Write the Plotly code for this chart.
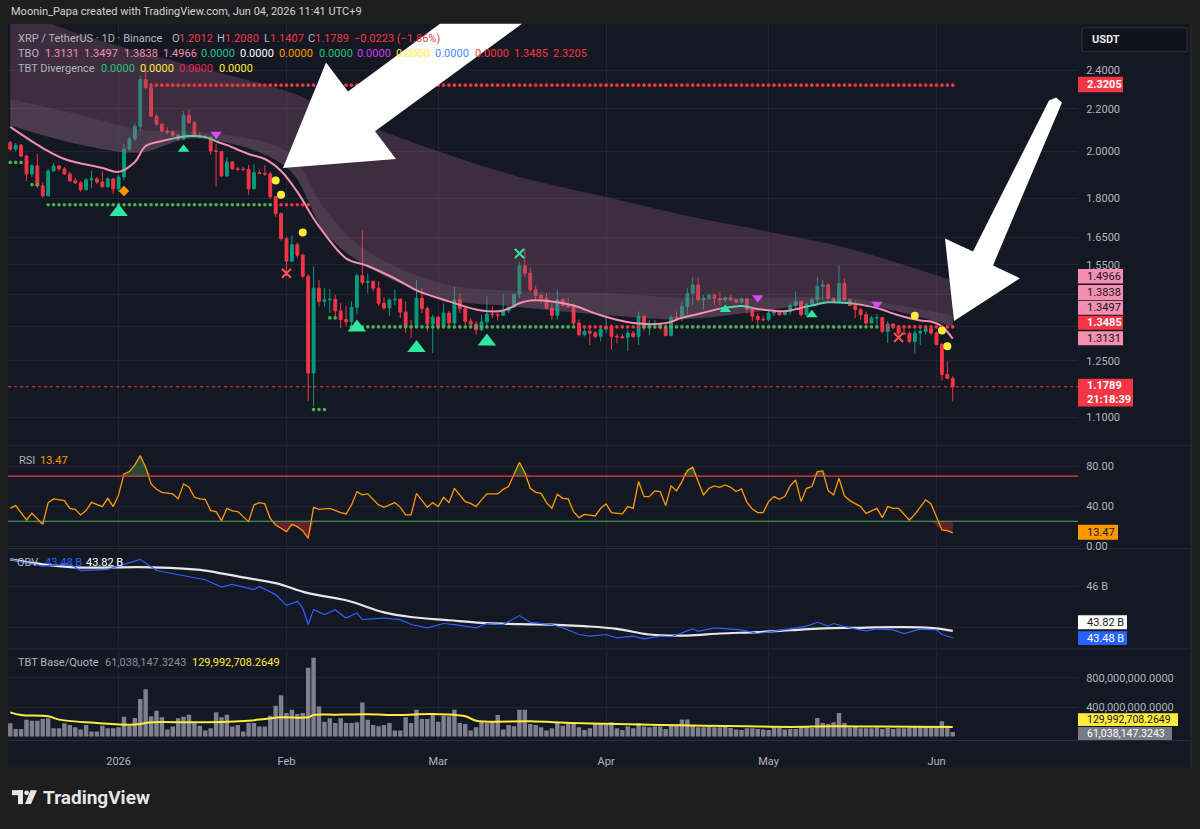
import plotly.graph_objects as go
import pandas as pd

W, H = 1200, 829
FONT = "Roboto"


def X(px):
    return px / W


def Y(py):
    return 1 - py / H


# ---------------------------------------------------------------- data
candle_start = "2025-12-12"
first_open = 2.040
closes = [2.010, 2.028, 1.979, 1.901, 1.936, 1.851, 1.810, 1.914, 1.935, 1.923,
          1.901, 1.872, 1.863, 1.835, 1.876, 1.880, 1.867, 1.847, 1.880, 1.839,
          1.888, 2.010, 2.056, 2.116, 2.350, 2.308, 2.164, 2.126, 2.094, 2.089,
          2.074, 2.056, 2.169, 2.134, 2.071, 2.067, 2.063, 2.002, 2.000, 1.893,
          1.953, 1.923, 1.921, 1.920, 1.839, 1.906, 1.903, 1.901, 1.806, 1.739,
          1.644, 1.563, 1.622, 1.584, 1.511, 1.216, 1.471, 1.428, 1.433, 1.435,
          1.398, 1.371, 1.364, 1.409, 1.513, 1.490, 1.494, 1.471, 1.422, 1.407,
          1.433, 1.435, 1.394, 1.350, 1.349, 1.438, 1.405, 1.357, 1.378, 1.350,
          1.391, 1.360, 1.433, 1.405, 1.366, 1.357, 1.340, 1.364, 1.388, 1.386,
          1.384, 1.398, 1.409, 1.451, 1.547, 1.521, 1.466, 1.447, 1.438, 1.407,
          1.384, 1.433, 1.415, 1.412, 1.360, 1.325, 1.335, 1.330, 1.320, 1.342,
          1.350, 1.320, 1.319, 1.317, 1.330, 1.320, 1.381, 1.345, 1.355, 1.357,
          1.345, 1.323, 1.378, 1.376, 1.412, 1.454, 1.482, 1.433, 1.438, 1.449,
          1.438, 1.433, 1.440, 1.433, 1.426, 1.436, 1.402, 1.381, 1.371, 1.370,
          1.391, 1.394, 1.386, 1.396, 1.415, 1.428, 1.386, 1.419, 1.433, 1.477,
          1.482, 1.438, 1.428, 1.487, 1.433, 1.415, 1.402, 1.386, 1.360, 1.376,
          1.377, 1.335, 1.357, 1.350, 1.330, 1.328, 1.305, 1.330, 1.335, 1.343,
          1.330, 1.296, 1.212, 1.2012, 1.1789]
highs = [2.047, 2.038, 2.033, 1.984, 1.944, 1.988, 1.867, 1.923, 1.948, 1.940,
         1.931, 1.910, 1.884, 1.872, 1.884, 1.914, 1.888, 1.914, 1.888, 1.884,
         1.897, 2.033, 2.065, 2.130, 2.371, 2.415, 2.319, 2.174, 2.130, 2.111,
         2.097, 2.078, 2.188, 2.198, 2.140, 2.088, 2.078, 2.070, 2.033, 1.997,
         1.975, 1.957, 1.931, 1.931, 1.940, 1.944, 1.918, 1.940, 1.910, 1.810,
         1.743, 1.652, 1.655, 1.630, 1.590, 1.518, 1.545, 1.498, 1.471, 1.468,
         1.449, 1.422, 1.413, 1.428, 1.521, 1.675, 1.521, 1.494, 1.494, 1.441,
         1.438, 1.466, 1.438, 1.428, 1.370, 1.498, 1.471, 1.412, 1.386, 1.382,
         1.422, 1.398, 1.476, 1.454, 1.412, 1.376, 1.366, 1.386, 1.444, 1.412,
         1.396, 1.451, 1.412, 1.454, 1.561, 1.608, 1.540, 1.482, 1.454, 1.454,
         1.422, 1.468, 1.438, 1.438, 1.422, 1.371, 1.345, 1.345, 1.336, 1.350,
         1.376, 1.357, 1.327, 1.327, 1.340, 1.336, 1.396, 1.386, 1.370, 1.370,
         1.360, 1.357, 1.384, 1.396, 1.428, 1.471, 1.509, 1.509, 1.449, 1.454,
         1.454, 1.460, 1.444, 1.449, 1.438, 1.441, 1.438, 1.407, 1.391, 1.382,
         1.398, 1.398, 1.398, 1.401, 1.422, 1.460, 1.430, 1.422, 1.438, 1.509,
         1.498, 1.487, 1.438, 1.550, 1.504, 1.438, 1.428, 1.407, 1.396, 1.382,
         1.388, 1.378, 1.366, 1.360, 1.354, 1.351, 1.335, 1.340, 1.345, 1.350,
         1.345, 1.335, 1.300, 1.248, 1.2080]
lows = [2.001, 2.001, 1.975, 1.872, 1.888, 1.843, 1.802, 1.806, 1.910, 1.914,
        1.897, 1.867, 1.859, 1.827, 1.831, 1.843, 1.859, 1.843, 1.843, 1.818,
        1.827, 1.876, 2.001, 2.047, 2.093, 2.298, 2.160, 2.116, 2.088, 2.078,
        2.065, 2.047, 2.051, 2.126, 2.065, 2.060, 2.056, 1.984, 1.847, 1.888,
        1.888, 1.918, 1.914, 1.914, 1.814, 1.835, 1.901, 1.893, 1.798, 1.727,
        1.637, 1.511, 1.587, 1.573, 1.504, 1.141, 1.128, 1.412, 1.412, 1.391,
        1.376, 1.345, 1.350, 1.350, 1.386, 1.481, 1.454, 1.460, 1.413, 1.401,
        1.382, 1.417, 1.376, 1.330, 1.315, 1.345, 1.391, 1.335, 1.272, 1.339,
        1.345, 1.354, 1.355, 1.391, 1.355, 1.350, 1.325, 1.335, 1.355, 1.376,
        1.368, 1.386, 1.391, 1.407, 1.438, 1.509, 1.460, 1.433, 1.422, 1.402,
        1.371, 1.371, 1.412, 1.407, 1.350, 1.320, 1.320, 1.295, 1.315, 1.305,
        1.330, 1.281, 1.300, 1.312, 1.278, 1.315, 1.295, 1.336, 1.323, 1.342,
        1.339, 1.320, 1.320, 1.370, 1.366, 1.386, 1.417, 1.428, 1.401, 1.432,
        1.417, 1.417, 1.426, 1.428, 1.422, 1.422, 1.391, 1.366, 1.350, 1.367,
        1.366, 1.382, 1.382, 1.385, 1.386, 1.405, 1.381, 1.381, 1.417, 1.416,
        1.433, 1.432, 1.422, 1.428, 1.430, 1.412, 1.376, 1.371, 1.355, 1.364,
        1.355, 1.330, 1.300, 1.345, 1.324, 1.325, 1.300, 1.269, 1.295, 1.325,
        1.324, 1.295, 1.195, 1.200, 1.1407]
volume_m = [181, 104, 104, 230, 217, 217, 240, 249, 113, 113,
            181, 158, 127, 95, 158, 68, 68, 149, 113, 113,
            127, 271, 149, 253, 511, 646, 276, 353, 262, 95,
            136, 249, 271, 298, 185, 149, 81, 113, 330, 262,
            298, 136, 158, 68, 185, 185, 136, 136, 285, 420,
            565, 321, 366, 307, 321, 940, 1076, 411, 203, 249,
            185, 249, 185, 185, 194, 466, 230, 158, 140, 158,
            185, 81, 81, 262, 185, 366, 240, 240, 294, 203,
            285, 276, 366, 185, 172, 81, 127, 203, 185, 203,
            294, 95, 158, 140, 366, 366, 172, 158, 127, 81,
            113, 185, 149, 172, 172, 127, 90, 113, 172, 185,
            176, 194, 113, 90, 140, 113, 185, 136, 127, 136,
            136, 104, 158, 149, 231, 231, 158, 127, 127, 136,
            127, 127, 136, 118, 95, 90, 113, 113, 104, 95,
            90, 127, 118, 95, 104, 104, 136, 127, 118, 253,
            185, 172, 194, 321, 185, 122, 136, 113, 113, 113,
            122, 104, 118, 104, 113, 113, 122, 136, 140, 136,
            136, 127, 208, 149, 61.038]

# volume moving average (yellow)
vma_dates = ["2025-12-12", "2025-12-14", "2025-12-19", "2025-12-21", "2025-12-28",
             "2026-01-04", "2026-01-07", "2026-01-16", "2026-01-25", "2026-01-28",
             "2026-01-31", "2026-02-05", "2026-02-06", "2026-02-10", "2026-02-16",
             "2026-02-22", "2026-02-28", "2026-03-06", "2026-03-08", "2026-03-18",
             "2026-03-26", "2026-04-03", "2026-04-11", "2026-04-19", "2026-04-27",
             "2026-05-05", "2026-05-13", "2026-05-21", "2026-06-04"]
vma_m = [330, 294, 276, 231, 185, 163, 194, 194, 217, 240, 262, 262, 294, 298, 303,
         294, 307, 276, 217, 208, 185, 172, 158, 149, 140, 131, 140, 136, 129.993]

# TBO lines (fast pink line + three slower band lines)
tbo_fast_dates = ["2025-12-12", "2025-12-18", "2025-12-22", "2025-12-29", "2026-01-01",
                  "2026-01-04", "2026-01-06", "2026-01-09", "2026-01-11", "2026-01-14",
                  "2026-01-17", "2026-01-19", "2026-01-21", "2026-01-25", "2026-01-28",
                  "2026-01-31", "2026-02-03", "2026-02-06", "2026-02-07", "2026-02-12",
                  "2026-02-16", "2026-02-22", "2026-02-25", "2026-03-03", "2026-03-09",
                  "2026-03-13", "2026-03-16", "2026-03-18", "2026-03-22", "2026-03-26",
                  "2026-03-31", "2026-04-06", "2026-04-12", "2026-04-15", "2026-04-18",
                  "2026-04-22", "2026-04-24", "2026-04-26", "2026-04-28", "2026-04-29",
                  "2026-05-04", "2026-05-08", "2026-05-09", "2026-05-12", "2026-05-16",
                  "2026-05-17", "2026-05-21", "2026-05-25", "2026-05-29", "2026-05-31",
                  "2026-06-02", "2026-06-04"]
tbo_fast = [2.113, 2.015, 1.966, 1.927, 1.910, 1.953, 2.024, 2.047, 2.058, 2.070,
            2.065, 2.045, 2.028, 1.988, 1.966, 1.914, 1.826, 1.720, 1.690, 1.573,
            1.546, 1.494, 1.464, 1.428, 1.399, 1.399, 1.422, 1.431, 1.428, 1.415,
            1.384, 1.360, 1.360, 1.376, 1.388, 1.405, 1.410, 1.413, 1.407, 1.404,
            1.397, 1.412, 1.415, 1.425, 1.422, 1.420, 1.407, 1.384, 1.368, 1.365,
            1.350, 1.3131]
# trend state of the segment that starts at each point: "up" teal, "dn" pink
tbo_fast_state = ["dn"] * 8 + ["up"] * 3 + ["dn"] * 24 + ["up"] * 3 + ["dn"] * 3 + \
                 ["up"] * 4 + ["dn"] * 7

tbo_band_dates = ["2025-12-12", "2025-12-25", "2026-01-05", "2026-01-15", "2026-02-01",
                  "2026-02-08", "2026-02-15", "2026-03-01", "2026-03-15", "2026-04-01",
                  "2026-04-15", "2026-05-01", "2026-05-15", "2026-06-04"]
tbo_mid = [2.120, 2.030, 1.995, 2.060, 1.930, 1.670, 1.555, 1.440, 1.412, 1.385,
           1.372, 1.400, 1.425, 1.3497]
tbo_slow = [2.250, 2.170, 2.100, 2.090, 2.000, 1.760, 1.610, 1.490, 1.462, 1.455,
            1.440, 1.440, 1.440, 1.3838]
tbo_slowest = [2.760, 2.600, 2.500, 2.420, 2.290, 2.210, 2.130, 2.000, 1.895, 1.805,
               1.735, 1.670, 1.612, 1.4966]

# dotted support / resistance levels
lvl_start = ["2025-12-12", "2025-12-16", "2025-12-19", "2026-01-30", "2026-02-06",
             "2026-02-09", "2026-02-13", "2026-03-27", "2026-04-08", "2026-05-22",
             "2026-01-07"]
lvl_end = ["2025-12-14", "2025-12-17", "2026-01-29", "2026-02-05", "2026-02-08",
           "2026-02-10", "2026-03-26", "2026-04-07", "2026-05-21", "2026-06-04",
           "2026-06-04"]
lvl_price = [1.951, 1.856, 1.774, 1.774, 1.120, 1.376, 1.3485, 1.3485, 1.3485, 1.3485,
             2.3205]
lvl_kind = ["sup", "sup", "sup", "res", "sup", "sup", "sup", "res", "sup", "res", "res"]

# signal markers
big_up_dates = ["2026-01-01", "2026-02-14", "2026-02-25", "2026-03-10"]
big_up_price = [1.745, 1.347, 1.286, 1.305]
small_up_dates = ["2026-01-13", "2026-04-23", "2026-05-09"]
small_up_price = [2.010, 1.402, 1.386]
down_dates = ["2026-01-19", "2026-04-29", "2026-05-21"]
down_price = [2.078, 1.440, 1.419]
pin_dates = ["2026-01-30", "2026-01-31", "2026-02-04", "2026-05-28", "2026-06-02", "2026-06-03"]
pin_price = [1.873, 1.814, 1.667, 1.383, 1.338, 1.291]
redx_dates = ["2026-02-01", "2026-05-25"]
redx_price = [1.521, 1.317]
greenx_dates = ["2026-03-16"]
greenx_price = [1.590]
diamond_dates = ["2026-01-02"]
diamond_price = [1.830]

# RSI
rsi_dates = ["2025-12-12", "2025-12-13", "2025-12-15", "2025-12-16", "2025-12-18", "2025-12-19",
             "2025-12-20", "2025-12-22", "2025-12-23", "2025-12-24", "2025-12-25", "2025-12-26",
             "2025-12-27", "2025-12-29", "2025-12-30", "2025-12-31", "2026-01-01", "2026-01-02",
             "2026-01-03", "2026-01-04", "2026-01-05", "2026-01-06", "2026-01-07", "2026-01-08",
             "2026-01-09", "2026-01-11", "2026-01-12", "2026-01-13", "2026-01-14", "2026-01-15",
             "2026-01-16", "2026-01-17", "2026-01-18", "2026-01-19", "2026-01-20", "2026-01-21",
             "2026-01-22", "2026-01-23", "2026-01-25", "2026-01-26", "2026-01-27", "2026-01-28",
             "2026-01-29", "2026-01-30", "2026-02-01", "2026-02-02", "2026-02-03", "2026-02-04",
             "2026-02-05", "2026-02-06", "2026-02-07", "2026-02-09", "2026-02-11", "2026-02-12",
             "2026-02-13", "2026-02-14", "2026-02-15", "2026-02-16", "2026-02-18", "2026-02-19",
             "2026-02-21", "2026-02-22", "2026-02-23", "2026-02-24", "2026-02-25", "2026-02-26",
             "2026-02-27", "2026-02-28", "2026-03-01", "2026-03-02", "2026-03-03", "2026-03-04",
             "2026-03-05", "2026-03-06", "2026-03-07", "2026-03-08", "2026-03-09", "2026-03-10",
             "2026-03-12", "2026-03-13", "2026-03-14", "2026-03-15", "2026-03-16", "2026-03-17",
             "2026-03-18", "2026-03-19", "2026-03-20", "2026-03-21", "2026-03-22", "2026-03-23",
             "2026-03-24", "2026-03-25", "2026-03-26", "2026-03-27", "2026-03-28", "2026-03-30",
             "2026-03-31", "2026-04-01", "2026-04-02", "2026-04-04", "2026-04-05", "2026-04-06",
             "2026-04-07", "2026-04-08", "2026-04-09", "2026-04-10", "2026-04-11", "2026-04-12",
             "2026-04-13", "2026-04-14", "2026-04-15", "2026-04-16", "2026-04-17", "2026-04-18",
             "2026-04-19", "2026-04-20", "2026-04-21", "2026-04-22", "2026-04-23", "2026-04-24",
             "2026-04-25", "2026-04-26", "2026-04-27", "2026-04-28", "2026-04-29", "2026-04-30",
             "2026-05-01", "2026-05-02", "2026-05-03", "2026-05-04", "2026-05-05", "2026-05-06",
             "2026-05-07", "2026-05-08", "2026-05-09", "2026-05-10", "2026-05-11", "2026-05-12",
             "2026-05-13", "2026-05-14", "2026-05-15", "2026-05-16", "2026-05-17", "2026-05-18",
             "2026-05-19", "2026-05-20", "2026-05-21", "2026-05-22", "2026-05-23", "2026-05-24",
             "2026-05-25", "2026-05-27", "2026-05-28", "2026-05-30", "2026-05-31", "2026-06-02",
             "2026-06-03", "2026-06-04"]
rsi_values = [37.9, 40.6, 26.3, 32.9, 21.9, 43.6,
              47.3, 45.6, 37.9, 36.9, 31.3, 35.6,
              43.9, 39.6, 47.9, 39.6, 51.3, 72.3,
              74.6, 81.3, 90.6, 78.9, 62.3, 56.9,
              53.9, 52.3, 47.3, 62.3, 58.9, 48.9,
              47.3, 46.9, 35.6, 34.6, 25.6, 37.9,
              35.3, 34.6, 24.6, 41.3, 43.6, 42.3,
              27.9, 21.3, 14.6, 21.9, 19.6, 15.6,
              7.9, 38.9, 36.9, 37.9, 33.6, 32.3,
              41.3, 54.6, 51.3, 52.3, 41.3, 38.9,
              43.6, 38.9, 31.3, 31.3, 52.9, 46.3,
              38.9, 43.6, 39.6, 48.9, 43.6, 57.9,
              51.3, 44.6, 42.9, 39.6, 46.3, 52.3,
              52.3, 56.9, 59.6, 71.3, 83.9, 73.6,
              57.9, 53.9, 52.9, 43.6, 37.9, 51.9,
              47.9, 47.3, 34.6, 28.6, 31.9, 30.3,
              37.9, 42.3, 33.6, 32.3, 39.6, 37.9,
              64.6, 49.6, 49.6, 55.3, 54.6, 40.6,
              60.3, 55.3, 64.6, 75.6, 78.9, 64.6,
              51.3, 57.9, 60.3, 58.9, 61.3, 58.9,
              54.6, 57.3, 43.9, 37.3, 33.6, 33.6,
              44.6, 49.6, 46.9, 49.6, 60.3, 66.3,
              44.6, 57.9, 59.6, 74.6, 75.3, 55.6,
              51.3, 67.9, 50.3, 45.6, 42.9, 39.6,
              32.9, 35.6, 37.9, 28.6, 39.6, 37.9,
              37.9, 26.3, 31.9, 46.3, 42.3, 16.3,
              15.6, 13.47]
rsi_upper = 70
rsi_lower = 25

# OBV (billions) and its moving average
obv_dates = ["2025-12-12", "2025-12-18", "2025-12-23", "2025-12-25", "2025-12-30", "2026-01-05",
             "2026-01-08", "2026-01-12", "2026-01-17", "2026-01-20", "2026-01-22", "2026-01-26",
             "2026-01-27", "2026-01-30", "2026-02-01", "2026-02-03", "2026-02-04", "2026-02-05",
             "2026-02-06", "2026-02-08", "2026-02-10", "2026-02-12", "2026-02-14", "2026-02-15",
             "2026-02-19", "2026-02-22", "2026-02-24", "2026-02-27", "2026-03-02", "2026-03-04",
             "2026-03-08", "2026-03-10", "2026-03-13", "2026-03-16", "2026-03-18", "2026-03-22",
             "2026-03-24", "2026-03-27", "2026-03-29", "2026-04-01", "2026-04-03", "2026-04-06",
             "2026-04-08", "2026-04-11", "2026-04-13", "2026-04-17", "2026-04-18", "2026-04-21",
             "2026-04-24", "2026-04-26", "2026-04-29", "2026-05-01", "2026-05-05", "2026-05-08",
             "2026-05-10", "2026-05-12", "2026-05-13", "2026-05-16", "2026-05-19", "2026-05-21",
             "2026-05-24", "2026-05-26", "2026-05-29", "2026-06-01", "2026-06-02", "2026-06-04"]
obv_b = [47.33, 47.00, 47.10, 46.78, 46.84, 47.33,
         46.78, 46.57, 46.33, 45.97, 46.10, 45.84,
         46.00, 45.60, 45.07, 45.27, 44.94, 44.13,
         44.86, 44.62, 44.86, 44.45, 44.70, 44.37,
         44.45, 44.37, 44.13, 43.97, 44.18, 44.13,
         43.97, 44.18, 44.13, 44.57, 44.24, 44.13,
         43.97, 43.64, 43.56, 43.64, 43.48, 43.56,
         43.43, 43.56, 43.53, 43.92, 43.80, 43.97,
         43.92, 43.87, 43.69, 43.76, 43.92, 44.05,
         44.24, 44.05, 44.18, 43.97, 43.82, 43.92,
         43.87, 43.69, 43.90, 43.87, 43.64, 43.48]
obv_ma_dates = ["2025-12-12", "2025-12-23", "2026-01-05", "2026-01-12", "2026-01-17", "2026-01-23",
                "2026-01-30", "2026-02-05", "2026-02-12", "2026-02-19", "2026-02-24", "2026-03-03",
                "2026-03-09", "2026-03-16", "2026-03-22", "2026-03-28", "2026-04-03", "2026-04-09",
                "2026-04-16", "2026-04-22", "2026-04-29", "2026-05-05", "2026-05-11", "2026-05-17",
                "2026-05-24", "2026-05-31", "2026-06-04"]
obv_ma_b = [47.33, 46.95, 46.95, 46.89, 46.78, 46.49,
            46.16, 45.67, 45.32, 44.73, 44.50, 44.34,
            44.21, 44.15, 44.13, 44.05, 43.92, 43.64,
            43.59, 43.69, 43.76, 43.85, 43.94, 43.97,
            44.00, 43.97, 43.82]

month_ticks = ["2026-01-01", "2026-02-01", "2026-03-01", "2026-04-01", "2026-05-01", "2026-06-01"]
month_labels = ["2026", "Feb", "Mar", "Apr", "May", "Jun"]
price_ticks = [1.10, 1.25, 1.35, 1.45, 1.55, 1.65, 1.80, 2.00, 2.20, 2.40]
price_labels = ["1.1000", "1.2500", "", "", "1.5500", "1.6500", "1.8000", "2.0000", "2.2000", "2.4000"]
last_price = 1.1789

# ---------------------------------------------------------------- colours
BG_OUT = "#1e1e1e"
BG = "#141823"
GRID = "#1f2430"
SEP = "#2a2e39"
TXT = "#b2b5be"
UP = "#089981"
DN = "#f23645"
PINK = "#f48fb1"
TEAL = "#5ccfb0"
FS = 11

dates = pd.date_range(candle_start, periods=len(closes), freq="D")
opens = [first_open] + closes[:-1]
hi = [max(h, o, c) for h, o, c in zip(highs, opens, closes)]
lo = [min(l, o, c) for l, o, c in zip(lows, opens, closes)]

fig = go.Figure()

# TBO band fills
fig.add_trace(go.Scatter(x=tbo_band_dates, y=tbo_mid, mode="lines", yaxis="y",
                         line=dict(width=0, shape="spline"), hoverinfo="skip", showlegend=False))
fig.add_trace(go.Scatter(x=tbo_band_dates, y=tbo_slowest, mode="lines", yaxis="y",
                         line=dict(width=0, shape="spline"), fill="tonexty",
                         fillcolor="rgba(140,87,118,0.34)", hoverinfo="skip", showlegend=False))
fig.add_trace(go.Scatter(x=tbo_band_dates, y=tbo_mid, mode="lines", yaxis="y",
                         line=dict(width=0, shape="spline"), hoverinfo="skip", showlegend=False))
fig.add_trace(go.Scatter(x=tbo_band_dates, y=tbo_slow, mode="lines", yaxis="y",
                         line=dict(width=0, shape="spline"), fill="tonexty",
                         fillcolor="rgba(200,175,200,0.10)", hoverinfo="skip", showlegend=False))

# candles
fig.add_trace(go.Candlestick(x=dates, open=opens, high=hi, low=lo, close=closes, yaxis="y",
                             increasing=dict(line=dict(color=UP, width=1), fillcolor=UP),
                             decreasing=dict(line=dict(color=DN, width=1), fillcolor=DN),
                             whiskerwidth=0, hoverinfo="skip", showlegend=False))

# fast TBO line, coloured by state
runs = []
start = 0
for k in range(1, len(tbo_fast)):
    if tbo_fast_state[k] != tbo_fast_state[start] or k == len(tbo_fast) - 1:
        runs.append((start, k, tbo_fast_state[start]))
        start = k
for a, b, st in runs:
    fig.add_trace(go.Scatter(x=tbo_fast_dates[a:b + 1], y=tbo_fast[a:b + 1], mode="lines", yaxis="y",
                             line=dict(color=TEAL if st == "up" else PINK, width=2, shape="spline"),
                             hoverinfo="skip", showlegend=False))

# dotted levels, one dot per bar
for s, e, p, kind in zip(lvl_start, lvl_end, lvl_price, lvl_kind):
    d = pd.date_range(s, e, freq="D")
    fig.add_trace(go.Scatter(x=d, y=[p] * len(d), mode="markers", yaxis="y",
                             marker=dict(size=3.6, color="#4caf50" if kind == "sup" else "#f23645"),
                             hoverinfo="skip", showlegend=False))


# signal markers
def add_markers(xs, ys, symbol, size, color, line_w=0):
    fig.add_trace(go.Scatter(x=xs, y=ys, mode="markers", yaxis="y",
                             marker=dict(symbol=symbol, size=size, color=color,
                                         line=dict(width=line_w, color=color)),
                             hoverinfo="skip", showlegend=False))


add_markers(big_up_dates, big_up_price, "triangle-up", 16, "#2ee8a0")
add_markers(small_up_dates, small_up_price, "triangle-up", 10, "#2ee8a0")
add_markers(down_dates, down_price, "triangle-down", 10, "#d54cf0")
add_markers(pin_dates, pin_price, "circle", 8, "#ffeb3b")
add_markers(redx_dates, redx_price, "x-thin", 9, "#ff5252", 2)
add_markers(greenx_dates, greenx_price, "x-thin", 9, "#2ee8a0", 2)
add_markers(diamond_dates, diamond_price, "diamond", 8, "#ff9800")

# RSI
rsi_hi = [max(v, rsi_upper) for v in rsi_values]
rsi_lo = [min(v, rsi_lower) for v in rsi_values]
fig.add_trace(go.Scatter(x=rsi_dates, y=[rsi_upper] * len(rsi_dates), mode="lines", yaxis="y2",
                         line=dict(width=0), hoverinfo="skip", showlegend=False))
fig.add_trace(go.Scatter(x=rsi_dates, y=rsi_hi, mode="lines", yaxis="y2", line=dict(width=0),
                         fill="tonexty", fillcolor="rgba(76,175,80,0.35)", hoverinfo="skip",
                         showlegend=False))
fig.add_trace(go.Scatter(x=rsi_dates, y=[rsi_lower] * len(rsi_dates), mode="lines", yaxis="y2",
                         line=dict(width=0), hoverinfo="skip", showlegend=False))
fig.add_trace(go.Scatter(x=rsi_dates, y=rsi_lo, mode="lines", yaxis="y2", line=dict(width=0),
                         fill="tonexty", fillcolor="rgba(242,54,69,0.35)", hoverinfo="skip",
                         showlegend=False))
fig.add_trace(go.Scatter(x=rsi_dates, y=rsi_values, mode="lines", yaxis="y2",
                         line=dict(color="#ff9800", width=1.3), hoverinfo="skip", showlegend=False))

# OBV
fig.add_trace(go.Scatter(x=obv_ma_dates, y=obv_ma_b, mode="lines", yaxis="y3",
                         line=dict(color="#e6e6e6", width=2.2, shape="spline"), hoverinfo="skip",
                         showlegend=False))
fig.add_trace(go.Scatter(x=obv_dates, y=obv_b, mode="lines", yaxis="y3",
                         line=dict(color="#2962ff", width=1.2), hoverinfo="skip", showlegend=False))

# volume
fig.add_trace(go.Bar(x=dates, y=[v * 1e6 for v in volume_m], yaxis="y4", marker_color="#7e818c",
                     marker_line_width=0, hoverinfo="skip", showlegend=False))
fig.add_trace(go.Scatter(x=vma_dates, y=[v * 1e6 for v in vma_m], mode="lines", yaxis="y4",
                         line=dict(color="#ffeb3b", width=2, shape="spline"), hoverinfo="skip",
                         showlegend=False))

# ---------------------------------------------------------------- layout
shapes = []
ann = []

# chart panel background
shapes.append(dict(type="rect", xref="paper", yref="paper", x0=X(8), x1=X(1191), y0=Y(772), y1=Y(24),
                   fillcolor=BG, line=dict(width=0), layer="below"))
for sy in (448, 552, 653, 745):
    shapes.append(dict(type="line", xref="paper", yref="paper", x0=X(8), x1=X(1191), y0=Y(sy), y1=Y(sy),
                       line=dict(color=SEP, width=1), layer="below"))
shapes.append(dict(type="line", xref="paper", yref="paper", x0=X(1191), x1=X(1191), y0=Y(772), y1=Y(24),
                   line=dict(color="#2a2e39", width=1), layer="below"))

# last price line
shapes.append(dict(type="line", xref="x domain", yref="y", x0=0, x1=1, y0=last_price, y1=last_price,
                   line=dict(color=DN, width=1, dash="dot"), layer="above"))
# RSI bands
shapes.append(dict(type="line", xref="x domain", yref="y2", x0=0, x1=1, y0=rsi_upper, y1=rsi_upper,
                   line=dict(color="#f23645", width=1.2), layer="above"))
shapes.append(dict(type="line", xref="x domain", yref="y2", x0=0, x1=1, y0=rsi_lower, y1=rsi_lower,
                   line=dict(color="#4caf50", width=1.2), layer="above"))


def poly(points, color):
    path = "M " + " L ".join(f"{X(a):.5f},{Y(b):.5f}" for a, b in points) + " Z"
    shapes.append(dict(type="path", xref="paper", yref="paper", path=path, fillcolor=color,
                       line=dict(width=0), layer="above"))


# hand drawn arrows
poly([(283, 169), (326, 63), (348, 92), (440, 24), (522, 24), (375, 132), (396, 160)], "#ffffff")
poly([(954, 323), (945, 240), (973, 253), (1049, 101), (1056, 98), (1062, 103), (993, 267),
      (1020, 280)], "#ffffff")


def label_box(x0, x1, y0, y1, fill, text, color, bold=False, size=FS):
    shapes.append(dict(type="rect", xref="paper", yref="paper", x0=X(x0), x1=X(x1), y0=Y(y1), y1=Y(y0),
                       fillcolor=fill, line=dict(width=0), layer="above"))
    if bold:
        text = f"<b>{text}</b>"
    ann.append(dict(x=X(x0 + 7), y=Y((y0 + y1) / 2), xref="paper", yref="paper", text=text,
                    showarrow=False, xanchor="left", yanchor="middle", align="left",
                    font=dict(color=color, size=size, family=FONT)))


label_box(1078, 1123, 77.3, 92.7, "#f23645", "2.3205", "#ffffff", bold=True)
label_box(1078, 1123, 270.7, 285.3, PINK, "1.4966", "#131722")
label_box(1078, 1123, 286.7, 301.7, PINK, "1.3838", "#131722")
label_box(1078, 1123, 302.7, 316.7, PINK, "1.3497", "#131722")
label_box(1078, 1123, 317.7, 331.7, "#f23645", "1.3485", "#ffffff", bold=True)
label_box(1078, 1123, 333.3, 347.3, PINK, "1.3131", "#131722")
label_box(1078, 1133, 381, 409, "#f23645", "1.1789<br>21:18:39", "#ffffff", bold=True)
label_box(1078, 1118, 528, 543, "#ff9800", "13.47", "#131722")
label_box(1078, 1127, 619, 633, "#ffffff", "43.82 B", "#131722")
label_box(1078, 1127, 635, 649, "#2962ff", "43.48 B", "#ffffff")
label_box(1078, 1178, 717.5, 730.5, "#ffeb3b", "129,992,708.2649", "#131722", size=10.5)
label_box(1078, 1172, 731.5, 744.5, "#787b86", "61,038,147.3243", "#ffffff", size=10.5)

# USDT button
shapes.append(dict(type="rect", xref="paper", yref="paper", x0=X(1082), x1=X(1187), y0=Y(52), y1=Y(28),
                   fillcolor="#10131c", line=dict(color="#2e323d", width=1), layer="above"))
ann.append(dict(x=X(1090), y=Y(40), xref="paper", yref="paper", text="<b>USDT</b>", showarrow=False,
                xanchor="left", yanchor="middle", font=dict(color="#e8e8e8", size=FS, family=FONT)))


def text_run(items, y, size=FS):
    for txt, col, x in items:
        ann.append(dict(x=X(x), y=Y(y), xref="paper", yref="paper", text=txt, showarrow=False,
                        xanchor="left", yanchor="middle", font=dict(color=col, size=size, family=FONT)))


RED = "#f23645"
text_run([("Moonin_Papa created with TradingView.com, Jun 04, 2026 11:41 UTC+9", "#d1d4dc", 9)], 12)
text_run([("XRP / TetherUS · 1D · Binance", TXT, 16), ("O", TXT, 170), ("1.2012", RED, 177),
          ("H", TXT, 215), ("1.2080", RED, 223), ("L", TXT, 262), ("1.1407", RED, 268),
          ("C", TXT, 306), ("1.1789", RED, 313), ("−0.0223 (−1.86%)", RED, 352)], 39)
text_run([("TBO", TXT, 16), ("1.3131", PINK, 43), ("1.3497", PINK, 82), ("1.3838", PINK, 122),
          ("1.4966", PINK, 161), ("0.0000", "#26c281", 199), ("0.0000", "#ffffff", 238),
          ("0.0000", "#ff9800", 277), ("0.0000", "#26c281", 317), ("0.0000", "#c93ee6", 355),
          ("0.0000", "#ffeb3b", 394), ("0.0000", "#448aff", 433), ("0.0000", RED, 473),
          ("1.3485", RED, 512), ("2.3205", RED, 551)], 53.5)
text_run([("TBT Divergence", TXT, 16), ("0.0000", "#26c281", 99), ("0.0000", "#ffeb3b", 138),
          ("0.0000", "#e0284f", 177), ("0.0000", "#ffeb3b", 217)], 69)
text_run([("RSI", TXT, 17), ("13.47", "#ff9800", 38)], 463)
text_run([("OBV", TXT, 15), ("43.48 B", "#2962ff", 43), ("43.82 B", "#ffffff", 84)], 566)
text_run([("TBT Base/Quote", TXT, 16), ("61,038,147.3243", "#8c8f99", 103),
          ("129,992,708.2649", "#ffeb3b", 190)], 667)

# TradingView logo
shapes.append(dict(type="rect", xref="paper", yref="paper", x0=X(12), x1=X(23), y0=Y(800), y1=Y(795),
                   fillcolor="#e6e6e6", line=dict(width=0)))
shapes.append(dict(type="rect", xref="paper", yref="paper", x0=X(18), x1=X(23), y0=Y(809), y1=Y(795),
                   fillcolor="#e6e6e6", line=dict(width=0)))
shapes.append(dict(type="circle", xref="paper", yref="paper", x0=X(24.2), x1=X(29), y0=Y(800), y1=Y(795.2),
                   fillcolor="#e6e6e6", line=dict(width=0)))
poly([(30.5, 795), (37, 795), (31, 809), (25, 809)], "#e6e6e6")
ann.append(dict(x=X(41), y=Y(802), xref="paper", yref="paper", text="<b>TradingView</b>", showarrow=False,
                xanchor="left", yanchor="middle", font=dict(color="#e6e6e6", size=19, family=FONT)))

axis_font = dict(color=TXT, size=FS, family=FONT)
common_y = dict(side="right", anchor="x", showline=False, zeroline=False, gridcolor=GRID,
                ticks="outside", ticklen=5, tickcolor="rgba(0,0,0,0)", tickfont=axis_font,
                fixedrange=True)

fig.update_layout(
    width=W, height=H, autosize=False,
    margin=dict(l=0, r=0, t=0, b=0),
    paper_bgcolor=BG_OUT, plot_bgcolor="rgba(0,0,0,0)",
    font=dict(family=FONT, color=TXT),
    showlegend=False, hovermode=False,
    bargap=0.18, boxgap=0.25,
    xaxis=dict(type="date", domain=[X(8), X(1078)], range=["2025-12-11 14:00", "2026-06-27 03:00"],
               anchor="y4", tickvals=month_ticks, ticktext=month_labels, tickfont=axis_font,
               showgrid=True, gridcolor=GRID, zeroline=False, showline=False, ticks="",
               ticklabelstandoff=12, rangeslider=dict(visible=False), fixedrange=True),
    yaxis=dict(type="log", domain=[Y(447), Y(24)], range=[0.01536, 0.42537],
               tickvals=price_ticks, ticktext=price_labels, **common_y),
    yaxis2=dict(domain=[Y(551), Y(449)], range=[-1.4, 99.85], tickvals=[0, 40, 80],
                ticktext=["0.00", "40.00", "80.00"], **common_y),
    yaxis3=dict(domain=[Y(651), Y(553)], range=[43.024, 47.805], tickvals=[44, 46],
                ticktext=["", "46 B"], **common_y),
    yaxis4=dict(domain=[Y(745), Y(654)], range=[-54e6, 1180e6], tickvals=[400e6, 800e6],
                ticktext=["400,000,000.0000", "800,000,000.0000"], **common_y),
    shapes=shapes, annotations=ann,
)

fig.write_html("out.html", config={"displayModeBar": False})
